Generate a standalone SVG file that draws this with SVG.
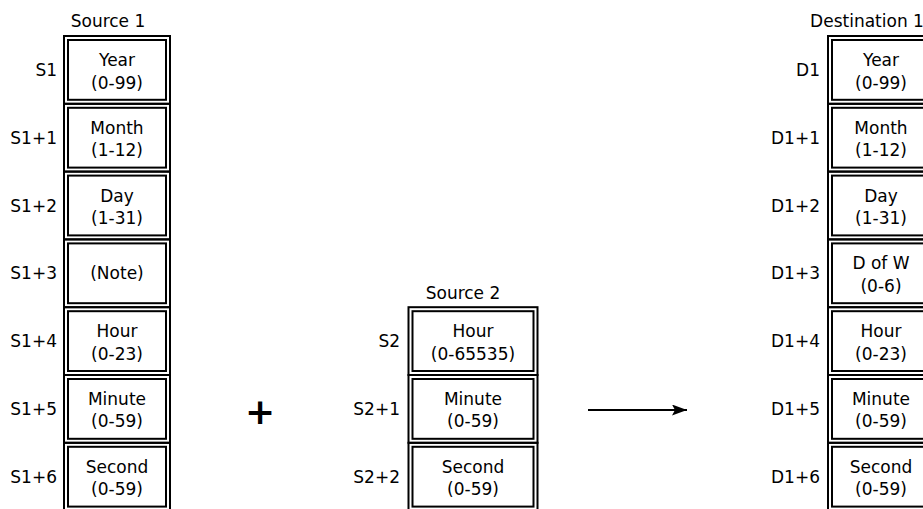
<svg xmlns="http://www.w3.org/2000/svg" width="923" height="509" viewBox="0 0 923 509">
<style>
text{font-family:"DejaVu Sans","Liberation Sans",sans-serif;font-size:17px;fill:#000}
.c{text-anchor:middle}
.r{text-anchor:end}
.o,.i{fill:none;stroke:#000;stroke-width:2}
.plus{font-family:"DejaVu Sans",sans-serif;font-weight:bold;font-size:36px;text-anchor:middle}
</style>
<defs>
<marker id="ah" markerWidth="16" markerHeight="12" refX="15" refY="5.5" orient="auto" markerUnits="userSpaceOnUse">
<path d="M0,0 L15,5.5 L0,11 L3,5.5 Z" fill="#000"/>
</marker>
</defs>
<g id="headers">
<text class="c" x="108" y="27">Source 1</text>
<text class="c" x="463" y="299">Source 2</text>
<text class="c" x="867" y="27">Destination 1</text>
</g>
<g id="source1">
<g id="s1-0"><rect class="o" x="64" y="36" width="106" height="67.8"/><rect class="i" x="68" y="40" width="98" height="59.8"/><text class="r" x="57" y="76">S1</text><text class="c" x="117" y="66">Year</text><text class="c" x="117" y="88.5">(0-99)</text></g>
<g id="s1-1"><rect class="o" x="64" y="103.8" width="106" height="67.8"/><rect class="i" x="68" y="107.8" width="98" height="59.8"/><text class="r" x="57" y="143.7">S1+1</text><text class="c" x="117" y="133.7">Month</text><text class="c" x="117" y="156.2">(1-12)</text></g>
<g id="s1-2"><rect class="o" x="64" y="171.6" width="106" height="67.8"/><rect class="i" x="68" y="175.6" width="98" height="59.8"/><text class="r" x="57" y="211.5">S1+2</text><text class="c" x="117" y="201.5">Day</text><text class="c" x="117" y="224">(1-31)</text></g>
<g id="s1-3"><rect class="o" x="64" y="239.4" width="106" height="67.8"/><rect class="i" x="68" y="243.4" width="98" height="59.8"/><text class="r" x="57" y="279.3">S1+3</text><text class="c" x="117" y="279.3">(Note)</text></g>
<g id="s1-4"><rect class="o" x="64" y="307.2" width="106" height="67.8"/><rect class="i" x="68" y="311.2" width="98" height="59.8"/><text class="r" x="57" y="347.1">S1+4</text><text class="c" x="117" y="337.1">Hour</text><text class="c" x="117" y="359.6">(0-23)</text></g>
<g id="s1-5"><rect class="o" x="64" y="375" width="106" height="67.8"/><rect class="i" x="68" y="379" width="98" height="59.8"/><text class="r" x="57" y="414.9">S1+5</text><text class="c" x="117" y="404.9">Minute</text><text class="c" x="117" y="427.4">(0-59)</text></g>
<g id="s1-6"><rect class="o" x="64" y="442.8" width="106" height="67.8"/><rect class="i" x="68" y="446.8" width="98" height="59.8"/><text class="r" x="57" y="482.7">S1+6</text><text class="c" x="117" y="472.7">Second</text><text class="c" x="117" y="495.2">(0-59)</text></g>
</g>
<g id="source2">
<g id="s2-0"><rect class="o" x="408.5" y="307.2" width="129" height="67.8"/><rect class="i" x="412.5" y="311.2" width="121" height="59.8"/><text class="r" x="400" y="347.1">S2</text><text class="c" x="473" y="337.1">Hour</text><text class="c" x="473" y="359.6">(0-65535)</text></g>
<g id="s2-1"><rect class="o" x="408.5" y="375" width="129" height="67.8"/><rect class="i" x="412.5" y="379" width="121" height="59.8"/><text class="r" x="400" y="414.9">S2+1</text><text class="c" x="473" y="404.9">Minute</text><text class="c" x="473" y="427.4">(0-59)</text></g>
<g id="s2-2"><rect class="o" x="408.5" y="442.8" width="129" height="67.8"/><rect class="i" x="412.5" y="446.8" width="121" height="59.8"/><text class="r" x="400" y="482.7">S2+2</text><text class="c" x="473" y="472.7">Second</text><text class="c" x="473" y="495.2">(0-59)</text></g>
</g>
<g id="destination1">
<g id="d1-0"><rect class="o" x="828" y="36" width="106" height="67.8"/><rect class="i" x="832" y="40" width="98" height="59.8"/><text class="r" x="820" y="76">D1</text><text class="c" x="881" y="66">Year</text><text class="c" x="881" y="88.5">(0-99)</text></g>
<g id="d1-1"><rect class="o" x="828" y="103.8" width="106" height="67.8"/><rect class="i" x="832" y="107.8" width="98" height="59.8"/><text class="r" x="820" y="143.7">D1+1</text><text class="c" x="881" y="133.7">Month</text><text class="c" x="881" y="156.2">(1-12)</text></g>
<g id="d1-2"><rect class="o" x="828" y="171.6" width="106" height="67.8"/><rect class="i" x="832" y="175.6" width="98" height="59.8"/><text class="r" x="820" y="211.5">D1+2</text><text class="c" x="881" y="201.5">Day</text><text class="c" x="881" y="224">(1-31)</text></g>
<g id="d1-3"><rect class="o" x="828" y="239.4" width="106" height="67.8"/><rect class="i" x="832" y="243.4" width="98" height="59.8"/><text class="r" x="820" y="279.3">D1+3</text><text class="c" x="881" y="269.3">D of W</text><text class="c" x="881" y="291.8">(0-6)</text></g>
<g id="d1-4"><rect class="o" x="828" y="307.2" width="106" height="67.8"/><rect class="i" x="832" y="311.2" width="98" height="59.8"/><text class="r" x="820" y="347.1">D1+4</text><text class="c" x="881" y="337.1">Hour</text><text class="c" x="881" y="359.6">(0-23)</text></g>
<g id="d1-5"><rect class="o" x="828" y="375" width="106" height="67.8"/><rect class="i" x="832" y="379" width="98" height="59.8"/><text class="r" x="820" y="414.9">D1+5</text><text class="c" x="881" y="404.9">Minute</text><text class="c" x="881" y="427.4">(0-59)</text></g>
<g id="d1-6"><rect class="o" x="828" y="442.8" width="106" height="67.8"/><rect class="i" x="832" y="446.8" width="98" height="59.8"/><text class="r" x="820" y="482.7">D1+6</text><text class="c" x="881" y="472.7">Second</text><text class="c" x="881" y="495.2">(0-59)</text></g>
</g>
<g id="operator"><text class="plus" x="260" y="424">+</text></g>
<g id="connectors">
<line x1="588" y1="410" x2="687" y2="410" stroke="#000" stroke-width="2" marker-end="url(#ah)"/>
</g>
</svg>
